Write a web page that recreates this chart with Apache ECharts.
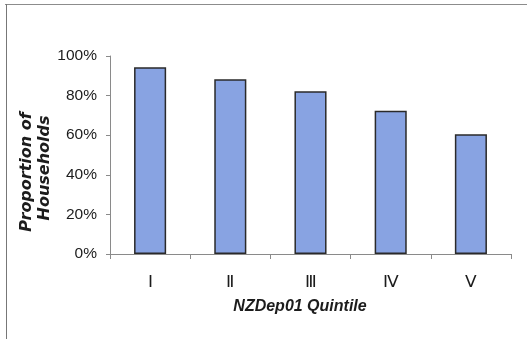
<!DOCTYPE html>
<html>
<head>
<meta charset="utf-8">
<script src="https://cdn.jsdelivr.net/npm/echarts@6/dist/echarts.min.js"></script>
<style>
  html, body { margin: 0; padding: 0; background: #fff; }
  #chart { width: 527px; height: 339px; }
</style>
</head>
<body>
<div id="chart"></div>
<script>
// Share of households by NZDep01 deprivation quintile
const quintiles = ['Ⅰ', 'Ⅱ', 'Ⅲ', 'Ⅳ', 'Ⅴ'];
const proportions = [94.3, 88.3, 82.2, 72.4, 60.5];
const yTicks = [0, 20, 40, 60, 80, 100];

const axisGray = '#8a8a8a';
const textColor = '#1c1c1c';
const labelFont = 'Arial, "Liberation Sans", sans-serif';

const chart = echarts.init(document.getElementById('chart'), null, { renderer: 'canvas' });

chart.setOption({
  animation: false,
  backgroundColor: '#fff',
  grid: { left: 110, right: 16, top: 56, bottom: 85, containLabel: false },
  xAxis: {
    type: 'category',
    data: quintiles,
    axisLine: { show: true, lineStyle: { color: axisGray, width: 1 } },
    axisTick: { show: true, alignWithLabel: false, length: 5, lineStyle: { color: axisGray } },
    axisLabel: { color: textColor, fontFamily: labelFont, fontSize: 17, margin: 20 }
  },
  yAxis: {
    type: 'value',
    min: yTicks[0],
    max: yTicks[yTicks.length - 1],
    interval: yTicks[1] - yTicks[0],
    splitLine: { show: false },
    axisLine: { show: true, lineStyle: { color: axisGray, width: 1 } },
    axisTick: { show: true, length: 4, lineStyle: { color: axisGray } },
    axisLabel: { color: textColor, fontFamily: labelFont, fontSize: 15.5, margin: 13, formatter: '{value}%' }
  },
  series: [{
    type: 'bar',
    data: proportions,
    barWidth: '40%',
    itemStyle: { color: '#88a3e2', borderColor: '#2a2a2a', borderWidth: 1.5 }
  }],
  graphic: [
    // outer frame (top and left edges)
    { type: 'line', shape: { x1: 5, y1: 4.5, x2: 527, y2: 4.5 }, style: { stroke: '#8c8c8c', lineWidth: 1 } },
    { type: 'line', shape: { x1: 6.5, y1: 4, x2: 6.5, y2: 339 }, style: { stroke: '#777', lineWidth: 1 } },
    // two-line vertical axis title
    { type: 'text', x: 27, y: 172, rotation: Math.PI / 2,
      style: { text: 'Proportion of', textAlign: 'center', textVerticalAlign: 'middle',
               font: 'italic bold 16px "DejaVu Sans", sans-serif', fill: textColor } },
    { type: 'text', x: 45, y: 168, rotation: Math.PI / 2,
      style: { text: 'Households', textAlign: 'center', textVerticalAlign: 'middle',
               font: 'italic bold 16px "DejaVu Sans", sans-serif', fill: textColor } },
    // horizontal axis title
    { type: 'text', x: 300, y: 307,
      style: { text: 'NZDep01 Quintile', textAlign: 'center', textVerticalAlign: 'middle',
               font: 'italic bold 16px Arial, "Liberation Sans", sans-serif', fill: textColor } }
  ]
});
</script>
</body>
</html>
